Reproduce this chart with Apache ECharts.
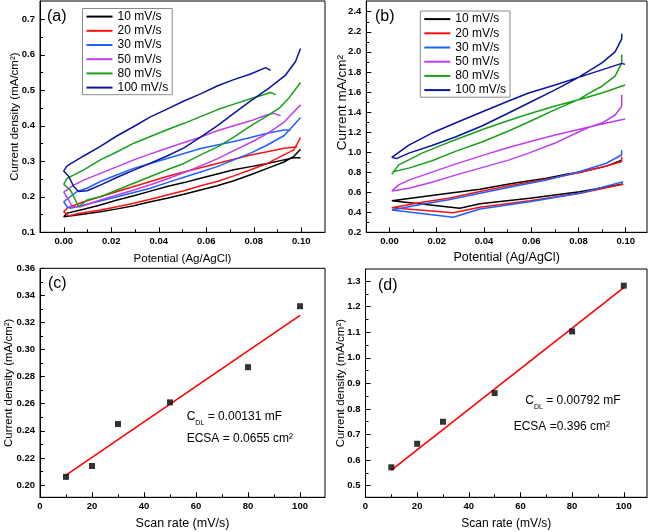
<!DOCTYPE html>
<html><head><meta charset="utf-8">
<script src="https://cdn.jsdelivr.net/npm/echarts/dist/echarts.min.js"></script>
<style>html,body{margin:0;padding:0;background:#fff}#c{width:652px;height:532px}</style>
</head><body><div id="c"></div>
<script>
// ---------- data ----------
const rateNames = ['10 mV/s','20 mV/s','30 mV/s','50 mV/s','80 mV/s','100 mV/s'];

// Panel (a): CV loops, [potential, current density]; "top" = upper branch, "bot" = lower branch
const a10top = [[0,0.144],[0.0014,0.154],[0.0084,0.165],[0.0154,0.177],[0.0225,0.191],[0.0295,0.203],[0.0365,0.216],[0.0435,0.229],[0.0506,0.240],[0.0576,0.252],[0.0646,0.264],[0.0716,0.276],[0.0787,0.285],[0.0857,0.294],[0.0927,0.304],[0.0969,0.310],[0.0997,0.310]];
const a10bot = [[0,0.144],[0.0056,0.149],[0.0154,0.158],[0.0225,0.166],[0.0295,0.175],[0.0365,0.186],[0.0435,0.196],[0.0506,0.207],[0.0576,0.219],[0.0646,0.231],[0.0716,0.245],[0.0787,0.262],[0.0857,0.280],[0.0927,0.298],[0.0969,0.314],[0.0997,0.334]];
const a20top = [[0,0.158],[0.0014,0.168],[0.0084,0.186],[0.0154,0.200],[0.0225,0.215],[0.0295,0.229],[0.0365,0.243],[0.0435,0.257],[0.0506,0.270],[0.0576,0.282],[0.0646,0.294],[0.0716,0.306],[0.0787,0.318],[0.0857,0.327],[0.0927,0.337],[0.0983,0.341]];
const a20bot = [[0,0.158],[0.0021,0.146],[0.0056,0.152],[0.0154,0.163],[0.0225,0.172],[0.0295,0.182],[0.0365,0.193],[0.0435,0.205],[0.0506,0.217],[0.0576,0.231],[0.0646,0.243],[0.0716,0.259],[0.0787,0.276],[0.0857,0.294],[0.0927,0.318],[0.0969,0.332],[0.0997,0.367]];
const a30top = [[0,0.186],[0.0056,0.215],[0.0098,0.224],[0.0154,0.243],[0.0225,0.262],[0.0295,0.280],[0.0365,0.294],[0.0435,0.308],[0.0506,0.322],[0.0576,0.336],[0.0646,0.346],[0.0716,0.356],[0.0787,0.367],[0.0857,0.379],[0.0927,0.388],[0.0955,0.388]];
const a30bot = [[0,0.186],[0.0014,0.172],[0.0028,0.168],[0.0084,0.177],[0.0154,0.188],[0.0225,0.200],[0.0295,0.212],[0.0365,0.224],[0.0435,0.240],[0.0506,0.255],[0.0576,0.270],[0.0646,0.285],[0.0716,0.304],[0.0787,0.323],[0.0857,0.346],[0.0927,0.372],[0.0997,0.423]];
const a50top = [[0,0.213],[0.0042,0.233],[0.0084,0.247],[0.0154,0.266],[0.0225,0.285],[0.0295,0.304],[0.0365,0.321],[0.0435,0.337],[0.0506,0.353],[0.0576,0.368],[0.0646,0.386],[0.0716,0.400],[0.0787,0.414],[0.0857,0.431],[0.0885,0.435],[0.0913,0.428]];
const a50bot = [[0,0.213],[0.0021,0.191],[0.0035,0.172],[0.0070,0.172],[0.0154,0.191],[0.0225,0.205],[0.0295,0.219],[0.0365,0.234],[0.0435,0.250],[0.0506,0.268],[0.0576,0.287],[0.0646,0.307],[0.0716,0.330],[0.0787,0.353],[0.0857,0.378],[0.0927,0.410],[0.0997,0.459]];
const a80top = [[0,0.235],[0.0014,0.252],[0.0084,0.276],[0.0154,0.304],[0.0225,0.327],[0.0295,0.351],[0.0365,0.370],[0.0435,0.389],[0.0506,0.407],[0.0576,0.426],[0.0646,0.445],[0.0716,0.461],[0.0787,0.476],[0.0871,0.494],[0.0892,0.487]];
const a80bot = [[0,0.235],[0.0028,0.219],[0.0049,0.191],[0.0063,0.172],[0.0098,0.191],[0.0154,0.200],[0.0225,0.219],[0.0295,0.238],[0.0365,0.257],[0.0435,0.276],[0.0506,0.294],[0.0576,0.318],[0.0646,0.340],[0.0716,0.368],[0.0787,0.400],[0.0857,0.428],[0.0906,0.449],[0.0950,0.480],[0.0997,0.522]];
const a100top = [[0,0.273],[0.0014,0.287],[0.0084,0.315],[0.0154,0.342],[0.0225,0.372],[0.0295,0.398],[0.0365,0.425],[0.0435,0.447],[0.0506,0.470],[0.0576,0.490],[0.0646,0.512],[0.0716,0.530],[0.0787,0.546],[0.0850,0.564],[0.0871,0.556]];
const a100bot = [[0,0.273],[0.0021,0.257],[0.0042,0.229],[0.0063,0.215],[0.0098,0.217],[0.0154,0.233],[0.0225,0.255],[0.0295,0.275],[0.0365,0.295],[0.0435,0.315],[0.0506,0.338],[0.0576,0.368],[0.0646,0.400],[0.0716,0.435],[0.0787,0.470],[0.0864,0.506],[0.0934,0.543],[0.0976,0.581],[0.0997,0.618]];

// Panel (b): CV loops
const b10top = [[0.001,0.515],[0.0138,0.555],[0.0251,0.590],[0.0383,0.629],[0.0524,0.689],[0.0665,0.739],[0.0749,0.779],[0.0806,0.800],[0.0918,0.860],[0.0982,0.904],[0.0983,0.920]];
const b10bot = [[0.001,0.515],[0.0298,0.439],[0.0383,0.484],[0.0594,0.539],[0.0806,0.605],[0.0989,0.682]];
const b20top = [[0.001,0.445],[0.0138,0.500],[0.0251,0.540],[0.0383,0.606],[0.0524,0.672],[0.0665,0.729],[0.0806,0.796],[0.0918,0.862],[0.0982,0.904],[0.0983,0.954]];
const b20bot = [[0.001,0.445],[0.0270,0.396],[0.0383,0.450],[0.0594,0.515],[0.0806,0.589],[0.0989,0.679]];
const b30top = [[0.001,0.422],[0.0138,0.480],[0.0251,0.525],[0.0383,0.589],[0.0524,0.656],[0.0665,0.722],[0.0806,0.806],[0.0918,0.889],[0.0982,0.971],[0.0983,1.021]];
const b30bot = [[0.001,0.422],[0.0270,0.350],[0.0383,0.432],[0.0594,0.505],[0.0806,0.589],[0.0989,0.705]];
const b50top = [[0.001,0.612],[0.0039,0.673],[0.0082,0.720],[0.0180,0.800],[0.0279,0.880],[0.0391,0.965],[0.0504,1.045],[0.0589,1.100],[0.0701,1.170],[0.0800,1.225],[0.0899,1.280],[0.0997,1.330]];
const b50bot = [[0.001,0.612],[0.0018,0.600],[0.0082,0.640],[0.0180,0.700],[0.0279,0.770],[0.0391,0.845],[0.0504,0.920],[0.0589,0.990],[0.0701,1.090],[0.0800,1.200],[0.0842,1.245],[0.0899,1.290],[0.0955,1.370],[0.0983,1.457],[0.0983,1.573]];
const b80top = [[0.001,0.779],[0.0039,0.873],[0.0082,0.923],[0.0138,0.990],[0.0208,1.057],[0.0279,1.123],[0.0391,1.223],[0.0504,1.315],[0.0589,1.380],[0.0701,1.460],[0.0800,1.523],[0.0899,1.590],[0.0997,1.670]];
const b80bot = [[0.001,0.779],[0.0018,0.807],[0.0082,0.840],[0.0180,0.913],[0.0279,1.007],[0.0391,1.100],[0.0504,1.210],[0.0589,1.300],[0.0701,1.423],[0.0800,1.523],[0.0842,1.583],[0.0899,1.657],[0.0955,1.757],[0.0983,1.890],[0.0983,1.973]];
const b100top = [[0.001,0.948],[0.0082,1.070],[0.0180,1.190],[0.0279,1.290],[0.0391,1.400],[0.0504,1.510],[0.0589,1.590],[0.0701,1.670],[0.0800,1.745],[0.0899,1.820],[0.0983,1.885],[0.0997,1.875]];
const b100bot = [[0.001,0.948],[0.0030,0.935],[0.0082,0.990],[0.0180,1.065],[0.0279,1.150],[0.0391,1.260],[0.0504,1.390],[0.0589,1.490],[0.0701,1.620],[0.0800,1.745],[0.0899,1.890],[0.0955,2.000],[0.0983,2.130],[0.0983,2.180]];

// Panels (c) and (d): scan rate vs current density
const scanRates = [10, 20, 30, 50, 80, 100];
const currentC = [0.206, 0.214, 0.245, 0.261, 0.287, 0.332];
const currentD = [0.572, 0.664, 0.750, 0.862, 1.103, 1.282];
const fitC = [[10, 0.2073], [100, 0.3253]];
const fitD = [[10, 0.561], [100, 1.274]];

// tick values
const potTicks = [0, 0.02, 0.04, 0.06, 0.08, 0.10];
const potMinor = [0.01, 0.03, 0.05, 0.07, 0.09];
const aYTicks = [0.1, 0.2, 0.3, 0.4, 0.5, 0.6, 0.7];
const aYMinor = [0.15, 0.25, 0.35, 0.45, 0.55, 0.65];
const bYTicks = [0.2, 0.4, 0.6, 0.8, 1.0, 1.2, 1.4, 1.6, 1.8, 2.0, 2.2, 2.4];
const bYMinor = [0.3, 0.5, 0.7, 0.9, 1.1, 1.3, 1.5, 1.7, 1.9, 2.1, 2.3];
const rateTicks = [0, 20, 40, 60, 80, 100];
const rateMinor = [10, 30, 50, 70, 90];
const cYTicks = [0.20, 0.22, 0.24, 0.26, 0.28, 0.30, 0.32, 0.34, 0.36];
const cYMinor = [0.21, 0.23, 0.25, 0.27, 0.29, 0.31, 0.33, 0.35];
const dYTicks = [0.5, 0.6, 0.7, 0.8, 0.9, 1.0, 1.1, 1.2, 1.3];
const dYMinor = [0.55, 0.65, 0.75, 0.85, 0.95, 1.05, 1.15, 1.25];

// ---------- styling / building ----------
const FF = '"Liberation Sans", Arial, sans-serif';
const rateColors = ['#000000', '#ff1010', '#2060ff', '#c03cf0', '#18a018', '#0a149c'];
const loopsA = [[a10top,a10bot],[a20top,a20bot],[a30top,a30bot],[a50top,a50bot],[a80top,a80bot],[a100top,a100bot]];
const loopsB = [[b10top,b10bot],[b20top,b20bot],[b30top,b30bot],[b50top,b50bot],[b80top,b80bot],[b100top,b100bot]];
const loopPath = (l) => l[0].slice().reverse().concat(l[1].slice(1));

function mainAxis(dim, g, min, max, ticks, dec, name, nameGap, nameSize, rich) {
  return {
    type: 'value', gridIndex: g, min: min, max: max,
    position: dim === 'x' ? 'bottom' : 'left',
    axisLine: { show: true, onZero: false, lineStyle: { color: '#000', width: 1 } },
    axisTick: { show: true, inside: true, length: 5, customValues: ticks, lineStyle: { color: '#000', width: 1 } },
    axisLabel: { show: true, customValues: ticks, formatter: v => Number(v).toFixed(dec),
      fontFamily: FF, fontWeight: 'bold', fontSize: 9.5, color: '#000', margin: dim === 'x' ? 4 : 5 },
    splitLine: { show: false },
    name: name, nameLocation: 'middle', nameGap: nameGap, nameMoveOverlap: false,
    nameTextStyle: { fontFamily: FF, fontSize: nameSize, color: '#000', rich: rich || {} }
  };
}
function minorAxis(dim, g, min, max, ticks) {
  return {
    type: 'value', gridIndex: g, min: min, max: max,
    position: dim === 'x' ? 'bottom' : 'left',
    axisLine: { show: false, onZero: false },
    axisTick: { show: true, inside: true, length: 3, customValues: ticks, lineStyle: { color: '#000', width: 1 } },
    axisLabel: { show: false }, splitLine: { show: false }
  };
}

const gridBox = { show: true, borderColor: '#000', borderWidth: 1, backgroundColor: 'transparent' };
const grids = [
  Object.assign({ left: 40, top: 1, width: 285, height: 231.3 }, gridBox),
  Object.assign({ left: 366.3, top: 1, width: 280.7, height: 231.3 }, gridBox),
  Object.assign({ left: 40, top: 268.3, width: 285, height: 229 }, gridBox),
  Object.assign({ left: 365.5, top: 269, width: 281.5, height: 228.3 }, gridBox)
];

const xAxes = [
  mainAxis('x', 0, -0.01, 0.11, potTicks, 2, 'Potential (Ag/AgCl)', 21, 11.5),
  minorAxis('x', 0, -0.01, 0.11, potMinor),
  mainAxis('x', 1, -0.0098, 0.109, potTicks, 2, 'Potential (Ag/AgCl)', 18.5, 12.5),
  minorAxis('x', 1, -0.0098, 0.109, potMinor),
  mainAxis('x', 2, 0, 109.6, rateTicks, 0, 'Scan rate (mV/s)', 20, 12.5),
  minorAxis('x', 2, 0, 109.6, rateMinor),
  mainAxis('x', 3, 0, 109, rateTicks, 0, 'Scan rate (mV/s)', 20, 12),
  minorAxis('x', 3, 0, 109, rateMinor)
];
const yAxes = [
  mainAxis('y', 0, 0.1, 0.7516, aYTicks, 1, 'Current density (mA/cm²)', 19, 11.5),
  minorAxis('y', 0, 0.1, 0.7516, aYMinor),
  mainAxis('y', 1, 0.2, 2.507, bYTicks, 1, '{sp|}Current mA/cm²', 17.5, 13.5, { sp: { width: 28, fontSize: 13.5 } }),
  minorAxis('y', 1, 0.2, 2.507, bYMinor),
  mainAxis('y', 2, 0.1909, 0.36, cYTicks, 2, 'Current density (mA/cm²)', 25, 11.5),
  minorAxis('y', 2, 0.1909, 0.36, cYMinor),
  mainAxis('y', 3, 0.4547, 1.347, dYTicks, 1, 'Current density (mA/cm²)', 18.5, 11.5),
  minorAxis('y', 3, 0.4547, 1.347, dYMinor)
];

const series = [];
loopsA.forEach((l, i) => series.push({ name: rateNames[i], type: 'line', xAxisIndex: 0, yAxisIndex: 0,
  data: loopPath(l), showSymbol: false, symbol: 'none', lineStyle: { width: 1.5, color: rateColors[i] }, itemStyle: { color: rateColors[i] } }));
loopsB.forEach((l, i) => series.push({ name: rateNames[i], type: 'line', xAxisIndex: 2, yAxisIndex: 2,
  data: loopPath(l), showSymbol: false, symbol: 'none', lineStyle: { width: 1.5, color: rateColors[i] }, itemStyle: { color: rateColors[i] } }));
series.push({ name: 'fitC', type: 'line', xAxisIndex: 4, yAxisIndex: 4, data: fitC, showSymbol: false, symbol: 'none', lineStyle: { width: 1.6, color: '#ff0000' } });
series.push({ name: 'ptsC', type: 'scatter', xAxisIndex: 4, yAxisIndex: 4, data: scanRates.map((r, i) => [r, currentC[i]]), symbol: 'rect', symbolSize: 6, itemStyle: { color: '#000' }, z: 5 });
series.push({ name: 'fitD', type: 'line', xAxisIndex: 6, yAxisIndex: 6, data: fitD, showSymbol: false, symbol: 'none', lineStyle: { width: 1.6, color: '#ff0000' } });
series.push({ name: 'ptsD', type: 'scatter', xAxisIndex: 6, yAxisIndex: 6, data: scanRates.map((r, i) => [r, currentD[i]]), symbol: 'rect', symbolSize: 6, itemStyle: { color: '#000' }, z: 5 });

function legendAt(left, top) {
  return { data: rateNames, orient: 'vertical', left: left, top: top, padding: [1, 4, 0, 4], itemGap: 0,
    itemWidth: 26, itemHeight: 2, icon: 'rect', selectedMode: false,
    backgroundColor: '#fff', borderColor: '#8a8a8a', borderWidth: 1,
    textStyle: { fontFamily: FF, fontSize: 12, color: '#000', lineHeight: 14.2 } };
}

function label(txt, x, y) {
  return { type: 'text', left: x, top: y, style: { text: txt, font: '16px ' + FF, fill: '#000' } };
}
function cdl(value, x, y) {
  return { type: 'text', left: x, top: y, style: {
    text: '{m|C}{s|DL}{m| = ' + value + ' mF}',
    rich: { m: { fontFamily: FF, fontSize: 12, fill: '#000', lineHeight: 20 },
            s: { fontFamily: FF, fontSize: 7, fill: '#000', lineHeight: 20, verticalAlign: 'bottom' } } } };
}
function plain(txt, x, y) {
  return { type: 'text', left: x, top: y, style: { text: txt, font: '12px ' + FF, fill: '#000' } };
}

const chart = echarts.init(document.getElementById('c'), null, { renderer: 'canvas' });
chart.setOption({
  animation: false,
  backgroundColor: '#fff',
  grid: grids,
  xAxis: xAxes,
  yAxis: yAxes,
  legend: [legendAt(82.5, 8.5), legendAt(420.3, 11)],
  series: series,
  graphic: [
    label('(a)', 47, 9), label('(b)', 375, 9), label('(c)', 48, 276), label('(d)', 378, 278),
    cdl('0.00131', 186.7, 411), plain('ECSA = 0.0655 cm²', 186.7, 433),
    cdl('0.00792', 525.3, 395), plain('ECSA =0.396 cm²', 513.7, 421)
  ]
});
</script>
</body></html>
